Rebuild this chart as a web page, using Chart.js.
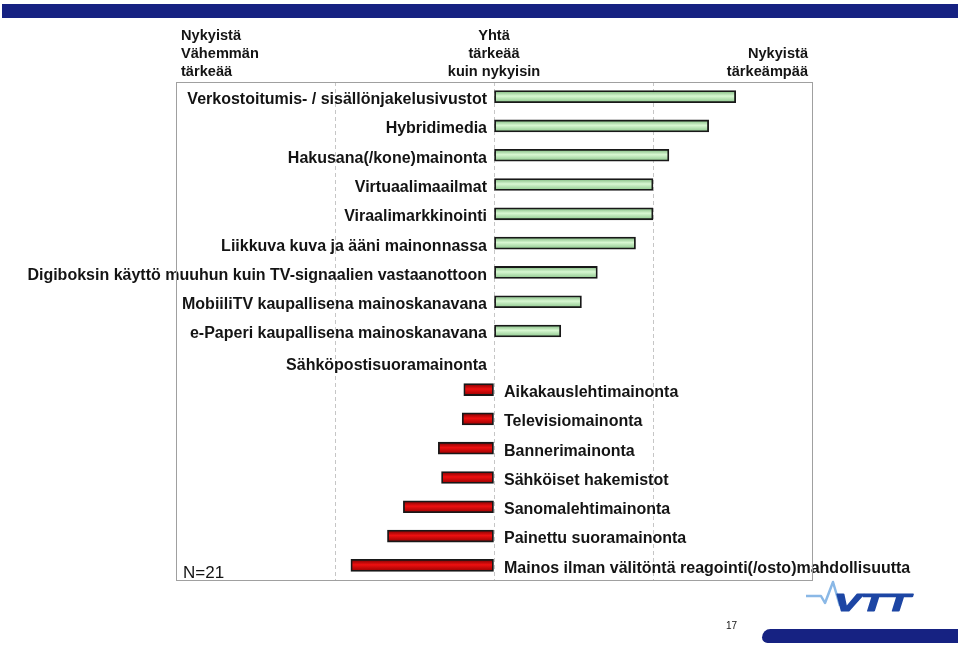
<!DOCTYPE html>
<html>
<head>
<meta charset="utf-8">
<script src="https://cdn.jsdelivr.net/npm/chart.js@4/dist/chart.umd.min.js"></script>
<style>
    html, body { margin: 0; padding: 0; background: #fff; }
    #wrap { position: relative; width: 960px; height: 648px; }
</style>
</head>
<body>
<div id="wrap"><canvas id="mediaChart" width="960" height="648"></canvas></div>
<script>
var categories = [
    'Verkostoitumis- / sisällönjakelusivustot',
    'Hybridimedia',
    'Hakusana(/kone)mainonta',
    'Virtuaalimaailmat',
    'Viraalimarkkinointi',
    'Liikkuva kuva ja ääni mainonnassa',
    'Digiboksin käyttö muuhun kuin TV-signaalien vastaanottoon',
    'MobiiliTV kaupallisena mainoskanavana',
    'e-Paperi kaupallisena mainoskanavana',
    'Sähköpostisuoramainonta',
    'Aikakauslehtimainonta',
    'Televisiomainonta',
    'Bannerimainonta',
    'Sähköiset hakemistot',
    'Sanomalehtimainonta',
    'Painettu suoramainonta',
    'Mainos ilman välitöntä reagointi(/osto)mahdollisuutta'
];
var values = [1.52, 1.35, 1.10, 1.00, 1.00, 0.89, 0.65, 0.55, 0.42, 0, -0.19, -0.20, -0.35, -0.33, -0.57, -0.67, -0.90];
var gridTicks = [-2, -1, 0, 1, 2];
var headerLeft = ['Nykyistä', 'Vähemmän', 'tärkeää'];
var headerMid = ['Yhtä', 'tärkeää', 'kuin nykyisin'];
var headerRight = ['Nykyistä', 'tärkeämpää'];
var sampleNote = 'N=21';
var pageNumber = '17';

function barFill(context) {
    var chart = context.chart;
    var v = context.raw;
    if (!chart.chartArea || !chart.scales.y) {
        return v < 0 ? '#d00000' : '#bfeebb';
    }
    var yc = chart.scales.y.getPixelForValue(context.dataIndex);
    var g = chart.ctx.createLinearGradient(0, yc - 6, 0, yc + 6);
    if (v < 0) {
        g.addColorStop(0, '#7a0000');
        g.addColorStop(0.45, '#ee1010');
        g.addColorStop(1, '#960000');
    } else {
        g.addColorStop(0, '#78b478');
        g.addColorStop(0.45, '#d8f8d2');
        g.addColorStop(1, '#88c488');
    }
    return g;
}

// labels next to the bars, on the other side of the zero line
var barLabels = {
    id: 'barLabels',
    afterDatasetsDraw: function(chart) {
        var ctx = chart.ctx;
        var xs = chart.scales.x, ys = chart.scales.y;
        var zero = xs.getPixelForValue(0);
        ctx.save();
        ctx.font = 'bold 16px "Liberation Sans", Arial, sans-serif';
        ctx.fillStyle = '#141414';
        ctx.textBaseline = 'middle';
        categories.forEach(function(label, i) {
            var y = ys.getPixelForValue(i) + 3;
            if (values[i] >= 0) {
                ctx.textAlign = 'right';
                ctx.fillText(label, zero - 7, values[i] === 0 ? y + 2 : y);
            } else {
                ctx.textAlign = 'left';
                ctx.fillText(label, zero + 10, y);
            }
        });
        ctx.restore();
    }
};

// frame, headers and slide decoration
var slideParts = {
    id: 'slideParts',
    afterDraw: function(chart) {
        var ctx = chart.ctx;
        var a = chart.chartArea;
        ctx.save();

        ctx.strokeStyle = '#a0a0a0';
        ctx.lineWidth = 1;
        ctx.strokeRect(a.left + 0.5, a.top + 0.5, a.right - a.left, a.bottom - a.top);

        ctx.fillStyle = '#162282';
        ctx.fillRect(2, 4, 956, 14);

        ctx.fillStyle = '#141414';
        ctx.font = 'bold 14.6px "Liberation Sans", Arial, sans-serif';
        ctx.textBaseline = 'alphabetic';
        ctx.textAlign = 'left';
        headerLeft.forEach(function(t, i) { ctx.fillText(t, a.left + 5, 40 + i * 18); });
        ctx.textAlign = 'center';
        var zero = chart.scales.x.getPixelForValue(0);
        headerMid.forEach(function(t, i) { ctx.fillText(t, zero, 40 + i * 18); });
        ctx.textAlign = 'right';
        headerRight.forEach(function(t, i) { ctx.fillText(t, a.right - 4, 58 + i * 18); });

        ctx.textAlign = 'left';
        ctx.font = '17px "Liberation Sans", Arial, sans-serif';
        ctx.fillText(sampleNote, a.left + 7, a.bottom - 2);

        ctx.font = '10px "Liberation Sans", Arial, sans-serif';
        ctx.fillText(pageNumber, 726, 629);

        // bottom band
        ctx.fillStyle = '#162282';
        ctx.beginPath();
        ctx.roundRect(762, 629, 196, 14, [9, 0, 0, 6]);
        ctx.fill();

        // logo
        ctx.strokeStyle = '#8ab8e6';
        ctx.lineWidth = 2.5;
        ctx.lineJoin = 'round';
        ctx.beginPath();
        ctx.moveTo(806, 596);
        ctx.lineTo(821, 596);
        ctx.lineTo(825, 603);
        ctx.lineTo(833, 582);
        ctx.lineTo(840, 606);
        ctx.stroke();
        ctx.save();
        ctx.translate(834, 611);
        ctx.scale(1.75, 1);
        ctx.fillStyle = '#1d46a4';
        ctx.strokeStyle = '#1d46a4';
        ctx.lineWidth = 1.2;
        ctx.font = 'italic bold 23px "Liberation Sans", Arial, sans-serif';
        ctx.textAlign = 'left';
        ctx.fillText('VTT', 0, 0);
        ctx.strokeText('VTT', 0, 0);
        ctx.restore();

        ctx.restore();
    }
};

var ctx = document.getElementById('mediaChart').getContext('2d');
var chart = new Chart(ctx, {
    type: 'bar',
    data: {
        labels: categories,
        datasets: [{
            data: values,
            backgroundColor: barFill,
            borderColor: '#181818',
            borderWidth: 1.8,
            borderSkipped: false,
            barThickness: 12
        }]
    },
    options: {
        indexAxis: 'y',
        responsive: false,
        animation: false,
        devicePixelRatio: 1,
        layout: {
            padding: { left: 176, top: 82, right: 148, bottom: 68 }
        },
        plugins: {
            legend: { display: false },
            tooltip: { enabled: false }
        },
        scales: {
            x: {
                type: 'linear',
                min: -2,
                max: 2,
                afterBuildTicks: function(scale) {
                    scale.ticks = gridTicks.map(function(v) { return { value: v }; });
                },
                ticks: { display: false },
                grid: {
                    drawTicks: false,
                    lineWidth: 1,
                    color: function(c) {
                        return c.tick && Math.abs(c.tick.value) < 2 ? '#c6c6c6' : 'rgba(0,0,0,0)';
                    }
                },
                border: { display: false, dash: [4, 3] }
            },
            y: {
                display: false
            }
        }
    },
    plugins: [barLabels, slideParts]
});
</script>
</body>
</html>
